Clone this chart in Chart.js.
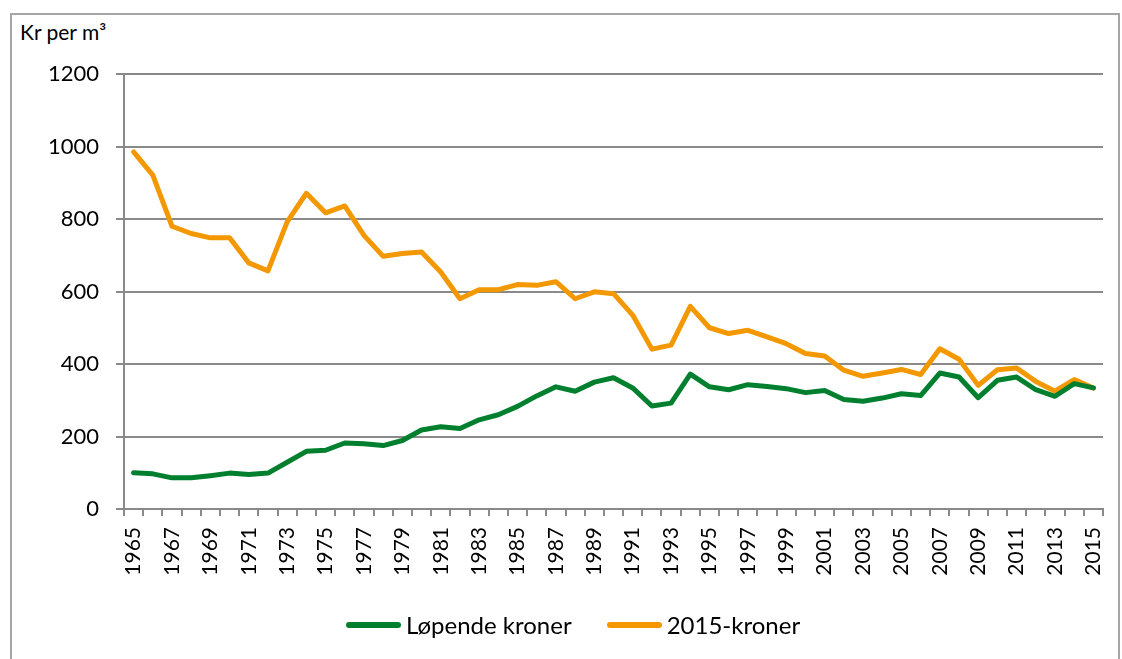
<!DOCTYPE html>
<html>
<head>
<meta charset="utf-8">
<script src="https://cdn.jsdelivr.net/npm/chart.js@4"></script>
<style>
  html, body { margin: 0; padding: 0; background: #fff; }
  #wrap { position: relative; width: 1122px; height: 659px; overflow: hidden; }
  #frame { position: absolute; left: 10px; top: 13px; width: 1106px; height: 700px; border: 2px solid #a6a6a6; }
  #ytitle { position: absolute; left: 20px; top: 19px; font: 21px Lato, sans-serif; color: #000; }
  canvas { position: absolute; left: 0; top: 0; }
  #legend { position: absolute; left: 346px; top: 610px; display: flex; align-items: center; font: 24px Lato, sans-serif; color: #000; }
  .item { display: flex; align-items: center; margin-right: 35px; }
  .swatch { width: 55px; height: 6px; border-radius: 3px; margin-right: 5px; }
</style>
</head>
<body>
<div id="wrap">
  <div id="frame"></div>
  <div id="ytitle">Kr per m³</div>
  <canvas id="myChart" width="1122" height="659"></canvas>
  <div id="legend"></div>
</div>
<script>
// categories
const years = [
  "1965", "1966", "1967", "1968", "1969", "1970", "1971", "1972", "1973", "1974",
  "1975", "1976", "1977", "1978", "1979", "1980", "1981", "1982", "1983", "1984",
  "1985", "1986", "1987", "1988", "1989", "1990", "1991", "1992", "1993", "1994",
  "1995", "1996", "1997", "1998", "1999", "2000", "2001", "2002", "2003", "2004",
  "2005", "2006", "2007", "2008", "2009", "2010", "2011", "2012", "2013", "2014",
  "2015"
];

// løpende kroner (nominal)
const lopende = [
  100, 97, 86, 86, 92, 99, 95, 99, 129, 159,
  162, 182, 180, 175, 189, 218, 227, 222, 246, 260,
  283, 312, 337, 325, 350, 362, 334, 284, 292, 372,
  337, 329, 343, 338, 332, 321, 327, 302, 297, 306,
  318, 313, 375, 364, 307, 355, 364, 329, 311, 346,
  334
];

// 2015-kroner (real)
const kroner2015 = [
  985, 921, 780, 760, 748, 748, 679, 657, 792, 871,
  817, 836, 755, 697, 705, 709, 654, 580, 605, 605,
  619, 617, 627, 580, 599, 594, 535, 441, 452, 559,
  500, 484, 493, 475, 456, 429, 422, 383, 366, 375,
  385, 371, 442, 413, 341, 384, 389, 352, 325, 357,
  334
];

const yTicks = [0, 200, 400, 600, 800, 1000, 1200];

const gridGray = "#898989";

Chart.defaults.font.family = "Lato, sans-serif";
Chart.defaults.color = "#000";

const ctx = document.getElementById("myChart").getContext("2d");
const chart = new Chart(ctx, {
  type: "line",
  data: {
    labels: years,
    datasets: [
      {
        label: "Løpende kroner",
        data: lopende,
        borderColor: "#00802f",
        borderWidth: 5,
        borderCapStyle: "round",
        borderJoinStyle: "round",
        pointRadius: 0,
        tension: 0,
        fill: false,
      },
      {
        label: "2015-kroner",
        data: kroner2015,
        borderColor: "#f39800",
        borderWidth: 5,
        borderCapStyle: "round",
        borderJoinStyle: "round",
        pointRadius: 0,
        tension: 0,
        fill: false,
      },
    ],
  },
  options: {
    responsive: false,
    animation: false,
    layout: { padding: { left: 0, right: 19, top: 74, bottom: 55 } },
    plugins: {
      tooltip: { enabled: false },
      legend: { display: false },
    },
    scales: {
      x: {
        type: "category",
        offset: true,
        grid: {
          offset: true,
          drawOnChartArea: false,
          drawTicks: true,
          tickLength: 7,
          color: gridGray,
          lineWidth: 2,
        },
        border: { color: gridGray, width: 2 },
        ticks: {
          autoSkip: false,
          maxRotation: 90,
          minRotation: 90,
          padding: 11,
          font: { size: 21 },
          callback: (v, i) => (i % 2 === 0 ? years[i] : ""),
        },
        afterFit: (scale) => {
          scale.height = 95;
          scale.paddingLeft = 0;
          scale.paddingRight = 0;
        },
      },
      y: {
        min: 0,
        max: 1200,
        afterBuildTicks: (scale) => {
          scale.ticks = yTicks.map((v) => ({ value: v }));
        },
        grid: { color: gridGray, lineWidth: 2, tickLength: 8 },
        border: { color: gridGray, width: 2 },
        ticks: {
          padding: 17,
          font: { size: 22 },
          callback: (v) => String(v),
        },
        afterFit: (scale) => { scale.width = 124; },
      },
    },
  },
});

// legend built from the chart's datasets
const legend = document.getElementById("legend");
chart.data.datasets.forEach((ds) => {
  const item = document.createElement("div");
  item.className = "item";
  const sw = document.createElement("div");
  sw.className = "swatch";
  sw.style.background = ds.borderColor;
  const txt = document.createElement("span");
  txt.textContent = ds.label;
  item.appendChild(sw);
  item.appendChild(txt);
  legend.appendChild(item);
});
</script>
</body>
</html>
